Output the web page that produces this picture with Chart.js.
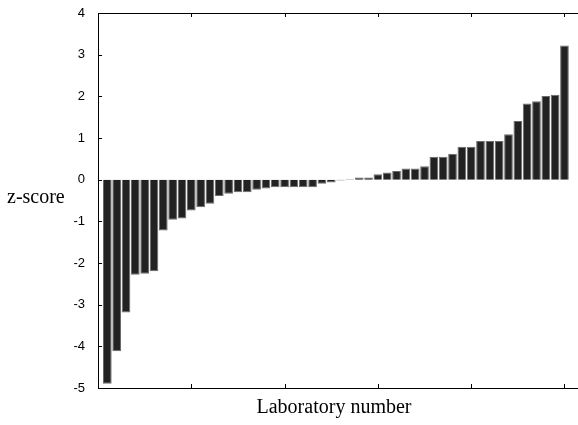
<!DOCTYPE html>
<html>
<head>
<meta charset="utf-8">
<script src="https://cdn.jsdelivr.net/npm/chart.js@4.4.0/dist/chart.umd.min.js"></script>
<style>
  html, body { margin: 0; padding: 0; background: #fff; }
  #wrap { width: 578px; height: 425px; }
</style>
</head>
<body>
<div id="wrap"><canvas id="zChart"></canvas></div>
<script>
// data, sorted z-scores per laboratory
var labs = [];
for (var i = 1; i <= 50; i++) labs.push(i);
var zScores = [
  -4.90, -4.12, -3.19, -2.28, -2.26, -2.20, -1.22, -0.96, -0.93, -0.74,
  -0.66, -0.58, -0.39, -0.34, -0.30, -0.30, -0.24, -0.21, -0.18, -0.18,
  -0.18, -0.18, -0.18, -0.10, -0.07, -0.02, 0.01, 0.05, 0.05, 0.13,
  0.17, 0.21, 0.27, 0.27, 0.32, 0.55, 0.55, 0.62, 0.79, 0.79,
  0.93, 0.93, 0.93, 1.09, 1.41, 1.83, 1.88, 2.01, 2.04, 3.22
];
var xTickValues = [10, 20, 30, 40, 50];
var yTickValues = [-5, -4, -3, -2, -1, 0, 1, 2, 3, 4];

var points = labs.map(function (lab, i) { return { x: lab, y: zScores[i] }; });

// box line on top, inward ticks, and the two axis titles
var boxPlugin = {
  id: 'boxPlugin',
  afterDraw: function (chart) {
    var c = chart.ctx, a = chart.chartArea;
    var xs = chart.scales.x, ys = chart.scales.y;
    c.save();
    c.strokeStyle = '#000';
    c.lineWidth = 1;
    c.beginPath();
    c.moveTo(a.left, a.top + 0.5);
    c.lineTo(a.right, a.top + 0.5);
    xTickValues.forEach(function (v) {
      var px = Math.round(xs.getPixelForValue(v)) + 0.5;
      c.moveTo(px, a.bottom); c.lineTo(px, a.bottom - 4);
      c.moveTo(px, a.top); c.lineTo(px, a.top + 4);
    });
    yTickValues.forEach(function (v) {
      var py = Math.round(ys.getPixelForValue(v)) + 0.5;
      c.moveTo(a.left, py); c.lineTo(a.left + 4, py);
    });
    c.stroke();

    c.fillStyle = '#000';
    c.font = '20px "Liberation Serif"';
    c.textBaseline = 'middle';
    c.textAlign = 'left';
    c.fillText('z-score', 7, 198);
    c.textAlign = 'center';
    c.textBaseline = 'alphabetic';
    c.fillText('Laboratory number', 334, 413);
    c.restore();
  }
};

var ctx = document.getElementById('zChart').getContext('2d');
var zChart = new Chart(ctx, {
  type: 'bar',
  data: {
    datasets: [{
      data: points,
      backgroundColor: '#222222',
      borderColor: '#6a6a6a',
      borderWidth: 1,
      barPercentage: 0.93,
      categoryPercentage: 1
    }]
  },
  options: {
    responsive: true,
    maintainAspectRatio: false,
    animation: false,
    layout: { padding: { top: 13, right: 0, left: 0, bottom: 0 } },
    plugins: {
      legend: { display: false },
      tooltip: { enabled: false }
    },
    scales: {
      x: {
        type: 'linear',
        offset: false,
        min: 0,
        max: 51.45,
        grid: { display: false, offset: false },
        border: { display: true, color: '#000', width: 1 },
        ticks: { display: false },
        afterFit: function (s) { s.height = 37; }
      },
      y: {
        min: -5,
        max: 4,
        grid: { display: false },
        border: { display: true, color: '#000', width: 1 },
        ticks: {
          stepSize: 1,
          padding: 5,
          color: '#000',
          font: { family: '"Liberation Sans", Arial, sans-serif', size: 13 }
        },
        afterFit: function (s) { s.width = 98; }
      }
    }
  },
  plugins: [boxPlugin]
});
</script>
</body>
</html>
